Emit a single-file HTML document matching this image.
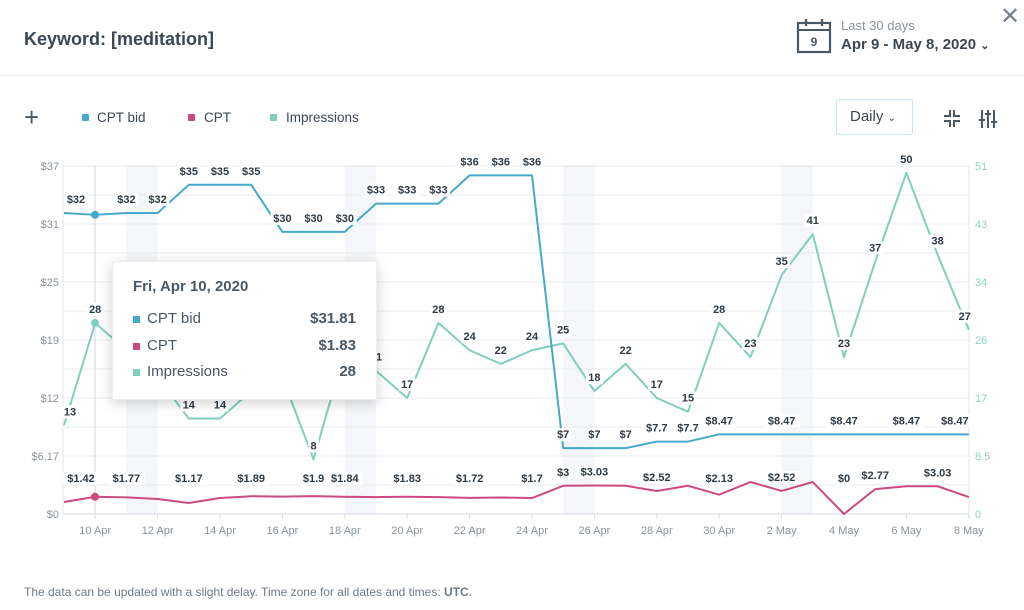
<!DOCTYPE html>
<html><head><meta charset="utf-8">
<style>
body{margin:0;width:1024px;height:610px;background:#fff;font-family:"Liberation Sans",sans-serif;position:relative;overflow:hidden;color:#3b4a58}
.abs{position:absolute}
</style></head><body>
<div class="abs" style="left:24px;top:29px;font-size:18px;font-weight:bold;color:#3b4754">Keyword: [meditation]</div>
<svg class="abs" style="left:796px;top:18px" width="40" height="36" viewBox="0 0 40 36">
<rect x="2" y="5" width="32" height="29" fill="none" stroke="#4a5866" stroke-width="2.2"/>
<line x1="2" y1="12" x2="34" y2="12" stroke="#4a5866" stroke-width="2"/>
<line x1="10" y1="1" x2="10" y2="8" stroke="#4a5866" stroke-width="2.2"/>
<line x1="26" y1="1" x2="26" y2="8" stroke="#4a5866" stroke-width="2.2"/>
<text x="18" y="28" font-size="12" font-weight="bold" text-anchor="middle" fill="#4a5866" font-family="Liberation Sans">9</text></svg>
<div class="abs" style="left:841px;top:18px;font-size:13px;color:#8a939c">Last 30 days</div>
<div class="abs" style="left:841px;top:36px;font-size:15px;font-weight:bold;color:#3b4754">Apr 9 - May 8, 2020 <span style="font-size:11px">&#8964;</span></div>
<div class="abs" style="left:1000px;top:2px;font-size:24px;color:#7a858f">&#x2715;</div>
<div class="abs" style="left:0;top:75px;width:1024px;height:1px;background:#ebedef"></div>

<div class="abs" style="left:24px;top:102px;font-size:26px;color:#4a5866">+</div>
<div class="abs" style="left:82px;top:114px;width:7px;height:7px;background:#45a9cc;border-radius:1px"></div>
<div class="abs" style="left:97px;top:110px;font-size:13.5px;color:#3b4754">CPT bid</div>
<div class="abs" style="left:188px;top:114px;width:7px;height:7px;background:#cc4a82;border-radius:1px"></div>
<div class="abs" style="left:204px;top:110px;font-size:13.5px;color:#3b4754">CPT</div>
<div class="abs" style="left:270px;top:114px;width:7px;height:7px;background:#7fcfbf;border-radius:1px"></div>
<div class="abs" style="left:286px;top:110px;font-size:13.5px;color:#3b4754">Impressions</div>
<div class="abs" style="left:836px;top:99px;width:77px;height:36px;border:1px solid #c5e6ef;border-radius:3px;box-sizing:border-box;font-size:15px;line-height:34px;padding-left:13px;color:#3b4754">Daily <span style="font-size:10px">&#8964;</span></div>
<svg class="abs" style="left:942px;top:108px" width="60" height="22">
<g stroke="#4a5866" stroke-width="2" fill="none">
<path d="M2 8h6V2M12 2v6h6M2 13h6v6M12 19v-6h6"/>
<path d="M40 2v18M46 2v18M52 2v18M37 12h6M43 6h6M49 14h6"/></g></svg>

<svg class="abs" style="left:0;top:0" width="1024" height="610" id="c"></svg>

<div class="abs" style="left:112px;top:261px;width:265px;height:139px;background:#fff;box-shadow:0 3px 12px rgba(0,0,0,.18);border:1px solid #eee;box-sizing:border-box">
<div class="abs" style="left:20px;top:16px;font-size:15px;font-weight:bold;color:#4a5866">Fri, Apr 10, 2020</div>
<div class="abs" style="left:20px;top:54px;width:7px;height:7px;background:#45a9cc"></div>
<div class="abs" style="left:34px;top:48px;font-size:15px;color:#4a5866">CPT bid</div>
<div class="abs" style="right:20px;top:48px;font-size:15px;font-weight:bold;color:#4a5866">$31.81</div>
<div class="abs" style="left:20px;top:81px;width:7px;height:7px;background:#cc4a82"></div>
<div class="abs" style="left:34px;top:75px;font-size:15px;color:#4a5866">CPT</div>
<div class="abs" style="right:20px;top:75px;font-size:15px;font-weight:bold;color:#4a5866">$1.83</div>
<div class="abs" style="left:20px;top:107px;width:7px;height:7px;background:#7fcfbf"></div>
<div class="abs" style="left:34px;top:101px;font-size:15px;color:#4a5866">Impressions</div>
<div class="abs" style="right:20px;top:101px;font-size:15px;font-weight:bold;color:#4a5866">28</div>
</div>
<div class="abs" style="left:24px;top:585px;font-size:12px;color:#6f7a84">The data can be updated with a slight delay. Time zone for all dates and times: <b>UTC</b>.</div>

<script>
var s='',X=function(d){return 64+d*31.2};
var bid=[32,31.81,32,32,35,35,35,30,30,30,33,33,33,36,36,36,7,7,7,7.7,7.7,8.47,8.47,8.47,8.47,8.47,8.47,8.47,8.47,8.47];
var cpt=[1.28,1.83,1.77,1.6,1.17,1.7,1.89,1.85,1.9,1.84,1.8,1.83,1.8,1.72,1.75,1.7,3,3.03,3.0,2.45,3.0,2.05,3.4,2.45,3.4,0,2.65,2.95,2.95,1.8];
var imp=[13,28,24,20,14,14,18,20,8,24,21,17,28,24,22,24,25,18,22,17,15,28,23,35,41,23,37,50,38,27];
var YL=function(v){return 514-v/37*348},YR=function(v){return 514-v/51*348};
[[2,3],[9,10],[16,17],[23,24]].forEach(function(b){s+='<rect x="'+X(b[0])+'" y="165" width="31.2" height="349" fill="#f4f6f9"/>'});
for(var i=0;i<13;i++){var y=166+i*29;s+='<line x1="63" x2="969" y1="'+y+'" y2="'+y+'" stroke="#e9ebed"/>'}
s+='<line x1="63" x2="63" y1="165" y2="514" stroke="#e3e6e9"/><line x1="969" x2="969" y1="165" y2="514" stroke="#e3e6e9"/>';
s+='<line x1="63" x2="969" y1="514" y2="514" stroke="#d6dbe6"/>';
var ll=['$0','$6.17','$12','$19','$25','$31','$37'],rl=['0','8.5','17','26','34','43','51'];
for(i=0;i<7;i++){var y=514-i*58+4;s+='<text x="59" y="'+y+'" text-anchor="end" font-size="11" fill="#8a939c">'+ll[i]+'</text><text x="975" y="'+y+'" font-size="11" fill="#8fd3c5">'+rl[i]+'</text>'}
var dl=['10 Apr','12 Apr','14 Apr','16 Apr','18 Apr','20 Apr','22 Apr','24 Apr','26 Apr','28 Apr','30 Apr','2 May','4 May','6 May','8 May'];
for(i=0;i<15;i++){var x=X(1+2*i);s+='<line x1="'+x+'" x2="'+x+'" y1="514" y2="519" stroke="#d6dbe6"/><text x="'+x+'" y="534" text-anchor="middle" font-size="11" fill="#8a939c">'+dl[i]+'</text>'}
s+='<line x1="95" x2="95" y1="165" y2="514" stroke="#d4d7db"/>';
function P(a,f,c){return '<polyline fill="none" stroke="'+c+'" stroke-width="2" stroke-linejoin="round" points="'+a.map(function(v,d){return X(d)+','+f(v)}).join(' ')+'"/>'}
s+=P(imp,YR,'#7fcfbf')+P(bid,YL,'#45a9cc')+P(cpt,YL,'#cc4a82');
s+='<circle cx="95" cy="'+YL(31.81)+'" r="4" fill="#45a9cc"/><circle cx="95" cy="'+YR(28)+'" r="4" fill="#7fcfbf"/><circle cx="95" cy="'+YL(1.83)+'" r="4" fill="#cc4a82"/>';
function L(d,t,y,dx){var x=X(d)+(dx||0);var w=t.length*6.5+4;s+='<rect x="'+(x-w/2)+'" y="'+(y-10)+'" width="'+w+'" height="13" fill="#fff"/><text x="'+x+'" y="'+y+'" text-anchor="middle" font-size="11" font-weight="bold" fill="#2e3a45">'+t+'</text>'}
var bl=[[0,'$32',12],[2,'$32'],[3,'$32'],[4,'$35'],[5,'$35'],[6,'$35'],[7,'$30'],[8,'$30'],[9,'$30'],[10,'$33'],[11,'$33'],[12,'$33'],[13,'$36'],[14,'$36'],[15,'$36'],[16,'$7'],[17,'$7'],[18,'$7'],[19,'$7.7'],[20,'$7.7'],[21,'$8.47'],[23,'$8.47'],[25,'$8.47'],[27,'$8.47'],[29,'$8.47',-14]];
var cl=[[0,'$1.42',17],[2,'$1.77'],[4,'$1.17'],[6,'$1.89'],[8,'$1.9'],[9,'$1.84'],[11,'$1.83'],[13,'$1.72'],[15,'$1.7'],[16,'$3'],[17,'$3.03'],[19,'$2.52'],[21,'$2.13'],[23,'$2.52'],[25,'$0'],[26,'$2.77'],[28,'$3.03']];
var il=[[0,'13',0],[1,'28'],[4,'14'],[5,'14'],[8,'8'],[10,'21'],[11,'17'],[12,'28'],[13,'24'],[14,'22'],[15,'24'],[16,'25'],[17,'18'],[18,'22'],[19,'17'],[20,'15'],[21,'28'],[22,'23'],[23,'35'],[24,'41'],[25,'23'],[26,'37'],[27,'50'],[28,'38'],[29,'27',-4]];
il.forEach(function(a){L(a[0],a[1],YR(imp[a[0]])-10,a[2]===0?6:a[2])});
bl.forEach(function(a){L(a[0],a[1],YL(bid[a[0]])-10,a[2])});
cl.forEach(function(a){L(a[0],a[1],Math.min(YL(cpt[a[0]]),492)-10,a[2])});
document.getElementById('c').innerHTML=s;
</script>
</body></html>
